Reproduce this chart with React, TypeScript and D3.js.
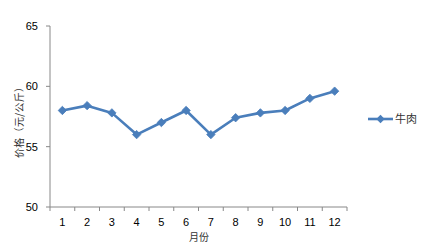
import React from "react";
import * as d3 from "d3";

const months = ["1", "2", "3", "4", "5", "6", "7", "8", "9", "10", "11", "12"];
const beef = [58.0, 58.4, 57.8, 56.0, 57.0, 58.0, 56.0, 57.4, 57.8, 58.0, 59.0, 59.6];
const yTicks = [50, 55, 60, 65];
const seriesName = "牛肉";
const xTitle = "月份";
const yTitle = "价格（元/公斤）";

const W = 431, H = 247;
const left = 50, right = 347, top = 26, bottom = 207;
const color = "#4A7EBB";
const axisColor = "#888888";
const font = "'Liberation Sans', 'Noto Sans CJK SC', sans-serif";
const cjk = "'Noto Sans CJK SC', sans-serif";

export default function App() {
  const x = d3.scaleBand<string>().domain(months).range([left, right]);
  const y = d3.scaleLinear().domain([50, 65]).range([bottom, top]);
  const line = d3.line<number>()
    .x((_, i) => (x(months[i]) as number) + x.bandwidth() / 2)
    .y((d) => y(d));
  const diamond = (cx: number, cy: number, r = 4.2) =>
    `M${cx},${cy - r}L${cx + r},${cy}L${cx},${cy + r}L${cx - r},${cy}Z`;
  const xTickPos = months.map((m) => x(m) as number).concat([right]);
  return (
    <svg width={W} height={H} style={{ position: "absolute", left: 0, top: 0 }}>
      <rect width={W} height={H} fill="#fff" />
      <line x1={left} x2={left} y1={top} y2={bottom} stroke={axisColor} strokeWidth={1} />
      {yTicks.map((t) => (
        <g key={t}>
          <line x1={left - 4} x2={left} y1={y(t)} y2={y(t)} stroke={axisColor} />
          <text x={38} y={y(t) + 4} textAnchor="end" fontSize={11} fontFamily={font} fill="#000">{t}</text>
        </g>
      ))}
      <line x1={left} x2={right} y1={bottom} y2={bottom} stroke={axisColor} strokeWidth={1} />
      {xTickPos.map((p, i) => (
        <line key={i} x1={p} x2={p} y1={bottom} y2={bottom + 4} stroke={axisColor} />
      ))}
      {months.map((m) => (
        <text key={m} x={(x(m) as number) + x.bandwidth() / 2} y={226} textAnchor="middle" fontSize={11} fontFamily={font} fill="#000">{m}</text>
      ))}
      <text x={199} y={241} textAnchor="middle" fontSize={10} fontFamily={cjk} fill="#333">{xTitle}</text>
      <text transform={`translate(22.5,120) rotate(-90)`} textAnchor="middle" fontSize={10} fontFamily={cjk} fill="#333" textLength={76} lengthAdjust="spacing">{yTitle}</text>
      <path d={line(beef) || ""} fill="none" stroke={color} strokeWidth={2.6} strokeLinejoin="round" />
      {beef.map((v, i) => (
        <path key={i} d={diamond((x(months[i]) as number) + x.bandwidth() / 2, y(v))} fill={color} stroke={color} strokeWidth={0.8} />
      ))}
      <line x1={368} x2={393} y1={119} y2={119} stroke={color} strokeWidth={2.6} />
      <path d={diamond(380.5, 119)} fill={color} />
      <text x={395} y={123} fontSize={11} fontFamily={cjk} fill="#333">{seriesName}</text>
    </svg>
  );
}
